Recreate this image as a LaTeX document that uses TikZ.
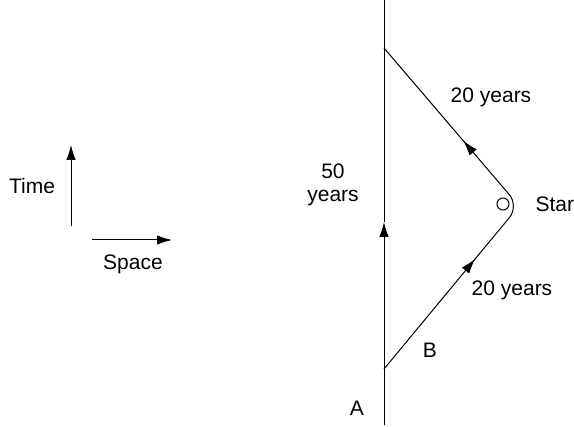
\documentclass[tikz,border=0pt]{standalone}
\usepackage{fontspec}
\setmainfont{Liberation Sans}
\usetikzlibrary{arrows.meta,decorations.markings}
\begin{document}
\begin{tikzpicture}[x=1pt,y=-1pt,
  lbl/.style={font=\fontsize{21}{24}\selectfont, inner sep=0pt, align=center},
  tip/.style={-{Latex[length=15pt,width=9.5pt]}},
  line width=1pt]
\useasboundingbox (0,0) rectangle (574,427);
% axes legend
\coordinate (t0) at (71,226);
\coordinate (t1) at (71,145);
\coordinate (s0) at (92,240);
\coordinate (s1) at (172,240);
\draw[tip] (t0) -- (t1);
\draw[tip] (s0) -- (s1);
\node[lbl] (time) at (32,186) {Time};
\node[lbl] (space) at (133,264) {Space};
% world line of A
\coordinate (abot) at (384,425);
\coordinate (atop) at (384,0);
\coordinate (amid) at (384,222);
\coordinate (bstart) at (384,369);
\coordinate (bend) at (384,48);
\coordinate (turn) at (519,206);
\draw[tip] (abot) -- (amid);
\draw (amid) -- (atop);
% world line of B
\draw[rounded corners=15pt, postaction={decorate},
  decoration={markings,
    mark=at position 0.345 with {\arrow{Latex[length=15pt,width=9.5pt]}},
    mark=at position 0.705 with {\arrow{Latex[length=15pt,width=9.5pt]}}}]
  (bstart) -- (turn) -- (bend);
% star
\node[draw, circle, minimum size=12pt, inner sep=0pt, line width=1pt] (star) at (503,204) {};
\node[lbl, anchor=west] (starlbl) at (535,204) {Star};
% labels
\node[lbl] (y50) at (333,185) {50\\[-1pt]years};
\node[lbl] (up20) at (491,97) {20 years};
\node[lbl] (lo20) at (512,290) {20 years};
\node[lbl] (B) at (430,350) {B};
\node[lbl] (A) at (357,408) {A};
\end{tikzpicture}
\end{document}
